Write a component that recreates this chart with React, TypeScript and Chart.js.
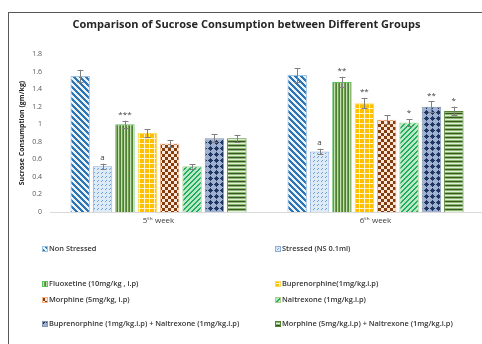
import { useEffect, useRef } from 'react';
import { Chart, registerables } from 'chart.js';

Chart.register(...registerables);

const TITLE = 'Comparison of Sucrose Consumption between Different Groups';
const Y_TITLE = 'Sucrose Consumption (gm/kg)';
const WEEKS = ['5ᵗʰ week', '6ᵗʰ week'];
const Y_MIN = 0;
const Y_MAX = 1.8;
const Y_STEP = 0.2;

const SERIES_LABELS = [
  'Non Stressed',
  'Stressed (NS 0.1ml)',
  'Fluoxetine (10mg/kg , i.p)',
  'Buprenorphine(1mg/kg.i.p)',
  'Morphine (5mg/kg, i.p)',
  'Naltrexone (1mg/kg.i.p)',
  'Buprenorphine (1mg/kg.i.p) + Naltrexone (1mg/kg.i.p)',
  'Morphine (5mg/kg.i.p) + Naltrexone (1mg/kg.i.p)',
];

const NON_STRESSED = [1.55, 1.56];
const STRESSED = [0.52, 0.69];
const FLUOXETINE = [1.0, 1.48];
const BUPRENORPHINE = [0.9, 1.24];
const MORPHINE = [0.78, 1.05];
const NALTREXONE = [0.52, 1.02];
const BUP_NAL = [0.84, 1.2];
const MOR_NAL = [0.84, 1.15];

const ERR_NON_STRESSED = [0.07, 0.08];
const ERR_STRESSED = [0.03, 0.03];
const ERR_FLUOXETINE = [0.04, 0.06];
const ERR_BUPRENORPHINE = [0.045, 0.06];
const ERR_MORPHINE = [0.04, 0.05];
const ERR_NALTREXONE = [0.025, 0.04];
const ERR_BUP_NAL = [0.045, 0.06];
const ERR_MOR_NAL = [0.04, 0.05];

const MARK_NON_STRESSED = ['', ''];
const MARK_STRESSED = ['a', 'a'];
const MARK_FLUOXETINE = ['***', '**'];
const MARK_BUPRENORPHINE = ['', '**'];
const MARK_MORPHINE = ['', ''];
const MARK_NALTREXONE = ['', '*'];
const MARK_BUP_NAL = ['', '**'];
const MARK_MOR_NAL = ['', '*'];

const VALUES = [NON_STRESSED, STRESSED, FLUOXETINE, BUPRENORPHINE, MORPHINE, NALTREXONE, BUP_NAL, MOR_NAL];
const ERRORS = [ERR_NON_STRESSED, ERR_STRESSED, ERR_FLUOXETINE, ERR_BUPRENORPHINE, ERR_MORPHINE, ERR_NALTREXONE, ERR_BUP_NAL, ERR_MOR_NAL];
const MARKS = [MARK_NON_STRESSED, MARK_STRESSED, MARK_FLUOXETINE, MARK_BUPRENORPHINE, MARK_MORPHINE, MARK_NALTREXONE, MARK_BUP_NAL, MARK_MOR_NAL];

const BORDERS = ['#9DC3E6', '#8FAADC', '#5DC35D', '#FFD966', '#F4B183', '#A9D18E', '#8497B0', '#548235'];

const FONT = "'Open Sans', 'DejaVu Sans', sans-serif";

function tile(w: number, h: number, color: (x: number, y: number) => string): CanvasPattern {
  const c = document.createElement('canvas');
  c.width = w;
  c.height = h;
  const ctx = c.getContext('2d')!;
  for (let y = 0; y < h; y++) {
    for (let x = 0; x < w; x++) {
      ctx.fillStyle = color(x, y);
      ctx.fillRect(x, y, 1, 1);
    }
  }
  return ctx.createPattern(c, 'repeat')!;
}

function makePatterns(): CanvasPattern[] {
  return [
    tile(6, 6, (x, y) => ((x - y + 12) % 6 < 3 ? '#2E75B6' : '#EAF2FA')),
    tile(8, 8, (x, y) => ((x + y) % 4 === 0 && Math.floor(x / 2) % 2 === 0 ? '#6F9BD6' : '#DDEBF7')),
    tile(3, 1, (x) => (x === 0 ? '#4E7F33' : x === 1 ? '#C5E0B4' : '#6E9E4E')),
    tile(5, 5, (x, y) => (x === 0 || y === 0 ? '#FFF2CC' : '#FFC000')),
    tile(6, 6, (x, y) => ((Math.floor(x / 3) + Math.floor(y / 3)) % 2 === 0 ? '#843C0C' : '#FBE5D6')),
    tile(5, 5, (x, y) => ((x + y) % 5 < 2 ? '#1FAF5A' : '#BCE8C9')),
    tile(6, 6, (x, y) => (Math.abs(x - 3) + Math.abs(y - 3) <= 2 ? '#203864' : '#9FB0D0')),
    tile(1, 4, (_x, y) => (y === 0 ? '#375623' : y === 2 ? '#E2F0D9' : '#8DB870')),
  ];
}

export default function App() {
  const ref = useRef<HTMLCanvasElement | null>(null);

  useEffect(() => {
    const canvas = ref.current;
    if (!canvas) return;
    const patterns = makePatterns();

    const errorBars = {
      id: 'errorBars',
      afterDatasetsDraw(chart: any) {
        const ctx = chart.ctx;
        const ys = chart.scales.y;
        ctx.save();
        ctx.strokeStyle = '#808080';
        ctx.lineWidth = 1;
        VALUES.forEach((vals, i) => {
          const meta = chart.getDatasetMeta(i);
          meta.data.forEach((el: any, j: number) => {
            const v = vals[j];
            const e = ERRORS[i][j];
            const x = Math.round(el.x) + 0.5;
            const top = ys.getPixelForValue(v + e);
            const bot = ys.getPixelForValue(v - e);
            ctx.beginPath();
            ctx.moveTo(x, top);
            ctx.lineTo(x, bot);
            ctx.moveTo(x - 3, Math.round(top) + 0.5);
            ctx.lineTo(x + 3, Math.round(top) + 0.5);
            ctx.moveTo(x - 3, Math.round(bot) + 0.5);
            ctx.lineTo(x + 3, Math.round(bot) + 0.5);
            ctx.stroke();
            const m = MARKS[i][j];
            if (m) {
              ctx.fillStyle = '#404040';
              ctx.font = `8px ${FONT}`;
              ctx.textAlign = 'center';
              ctx.textBaseline = 'bottom';
              ctx.fillText(m, el.x, top - 2);
            }
          });
        });
        ctx.restore();
      },
    };

    const legend = {
      id: 'customLegend',
      afterDraw(chart: any) {
        const ctx = chart.ctx;
        const rows = [236, 271, 287, 311];
        const cols = [33, 266];
        ctx.save();
        ctx.font = `600 7.4px ${FONT}`;
        ctx.textBaseline = 'middle';
        ctx.textAlign = 'left';
        SERIES_LABELS.forEach((label, i) => {
          const r = Math.floor(i / 2);
          const c = i % 2;
          const x = cols[c];
          const y = rows[r];
          ctx.fillStyle = patterns[i];
          ctx.fillRect(x, y - 3, 6, 6);
          ctx.strokeStyle = BORDERS[i];
          ctx.lineWidth = 1;
          ctx.strokeRect(x + 0.5, y - 2.5, 5, 5);
          ctx.fillStyle = '#333333';
          ctx.fillText(label, x + 7, y);
        });
        ctx.restore();
      },
    };

    const chart = new Chart(canvas, {
      type: 'bar',
      data: {
        labels: WEEKS,
        datasets: SERIES_LABELS.map((label, i) => ({
          label,
          data: VALUES[i],
          backgroundColor: patterns[i] as any,
          borderColor: BORDERS[i],
          borderWidth: 1,
          categoryPercentage: 0.825,
          barPercentage: 0.87,
        })),
      },
      options: {
        responsive: false,
        animation: false,
        events: [],
        layout: { padding: { left: 0, right: 5, top: 0, bottom: 112 } },
        plugins: {
          legend: { display: false },
          tooltip: { enabled: false },
          title: {
            display: true,
            text: TITLE,
            color: '#262626',
            font: { family: FONT, size: 11, weight: 'bold' },
            padding: { top: 5.5, bottom: 22.3 },
          },
        },
        scales: {
          x: {
            grid: { display: false, drawTicks: false },
            border: { display: true, color: '#D9D9D9', width: 1 },
            ticks: { color: '#404040', font: { family: FONT, size: 8 }, padding: 4 },
            afterFit: (s: any) => { s.height = 20; },
          },
          y: {
            min: Y_MIN,
            max: Y_MAX,
            grid: { display: false, drawTicks: false },
            border: { display: false },
            ticks: {
              stepSize: Y_STEP,
              color: '#595959',
              font: { family: FONT, size: 7 },
              padding: 8,
              callback: (v: any) => String(+Number(v).toFixed(1)),
            },
            title: {
              display: true,
              text: Y_TITLE,
              color: '#262626',
              font: { family: FONT, size: 7, weight: 'bold' },
              padding: { top: 9, bottom: 0 },
            },
            afterFit: (s: any) => { s.width = 41; },
          },
        },
      },
      plugins: [errorBars, legend],
    });
    return () => chart.destroy();
  }, []);

  return (
    <div
      style={{
        position: 'fixed',
        left: 8,
        top: 12,
        width: 474,
        height: 332,
        borderLeft: '1px solid #595959',
        borderTop: '1px solid #595959',
        overflow: 'hidden',
        background: '#fff',
      }}
    >
      <canvas ref={ref} width={480} height={331} style={{ display: 'block' }} />
    </div>
  );
}
